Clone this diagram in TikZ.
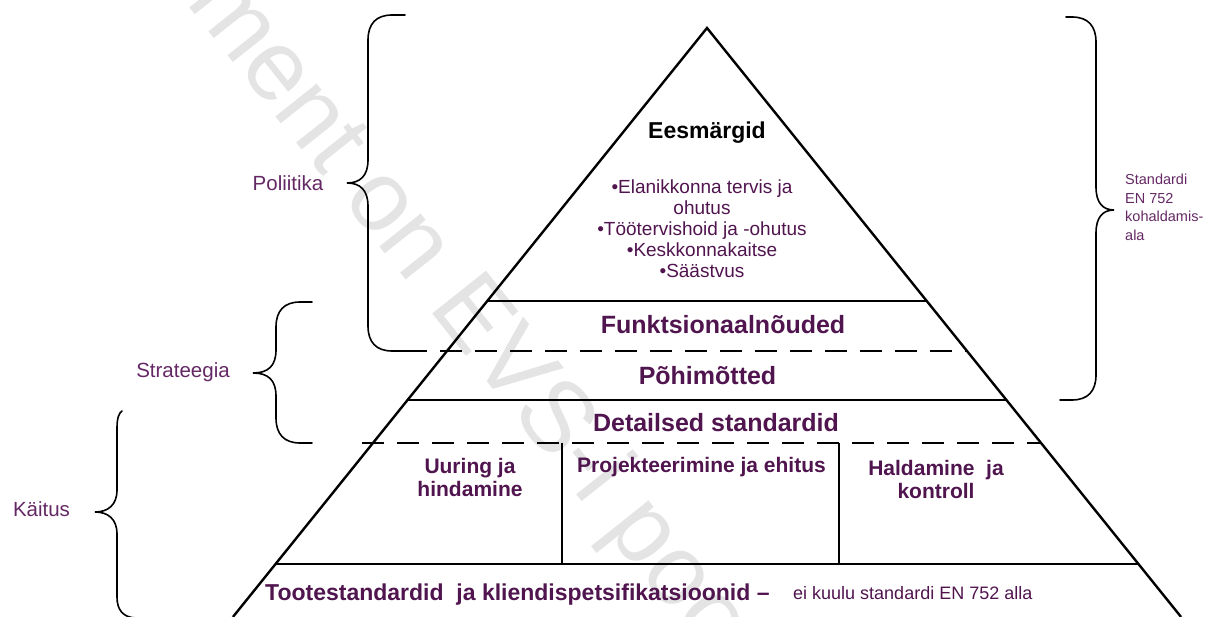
\documentclass[tikz,border=0pt]{standalone}
\usepackage{fontspec}
\setmainfont{Liberation Sans}
\definecolor{pyr}{RGB}{80,20,78}
\definecolor{lab}{RGB}{100,40,100}
\definecolor{wmgray}{RGB}{228,228,228}
\begin{document}
\begin{tikzpicture}[x=1pt,y=-1pt,
  edge/.style={line width=2.4pt, black},
  dashln/.style={line width=2.4pt, black, dash pattern=on 22pt off 13pt},
  divider/.style={line width=1.6pt, black},
  brace/.style={line width=1.6pt, black, line cap=round},
  title/.style={font=\fontsize{25}{30}\selectfont\bfseries, text=pyr, inner sep=0pt},
  sub/.style={font=\fontsize{21}{23}\selectfont\bfseries, text=pyr, align=center, inner sep=0pt},
  lbl/.style={font=\fontsize{20.5}{24}\selectfont, text=lab, inner sep=0pt},
  wmark/.style={font=\fontsize{100}{110}\selectfont, text=wmgray, inner sep=0pt}]
\useasboundingbox (0,0) rectangle (1216,617);
\clip (0,0) rectangle (1216,617);
% watermark
\node[wmark, rotate=-51.5, anchor=base west] (wm) at (40,-180) {Dokument on EVS-i poolt loodud eelvaade};
% pyramid
\coordinate (apex) at (707,28);
\coordinate (bl) at (232.9,617);
\coordinate (br) at (1181.1,617);
\coordinate (l1) at (487.2,301); \coordinate (r1) at (926.8,301);
\coordinate (l2) at (405,351);   \coordinate (r2) at (967.0,351);
\coordinate (l3) at (407.5,400); \coordinate (r3) at (1006.5,400);
\coordinate (l4) at (362,443);   \coordinate (r4) at (1041.1,443);
\coordinate (l5) at (275.5,564); \coordinate (r5) at (1138.5,564);
\coordinate (d1t) at (562,443); \coordinate (d1b) at (562,564);
\coordinate (d2t) at (839,443); \coordinate (d2b) at (839,564);
\draw[edge, line join=miter] (bl) -- (apex) -- (br);
\draw[edge] (l1) -- (r1);
\draw[dashln] (l2) -- (r2);
\draw[edge] (l3) -- (r3);
\draw[dashln] (l4) -- (r4);
\draw[edge] (l5) -- (r5);
\draw[divider] (d1t) -- (d1b);
\draw[divider] (d2t) -- (d2b);
% braces
\draw[brace] (405,15) -- (392,15) .. controls (376,15) and (368,24) .. (368,40) -- (368,160) .. controls (368,176) and (360,183) .. (347,183) .. controls (360,183) and (368,190) .. (368,206) -- (368,326) .. controls (368,342) and (376,351) .. (392,351) -- (405,351);
\draw[brace] (1066,17) -- (1072,17) .. controls (1088,17) and (1096,26) .. (1096,42) -- (1096,187) .. controls (1096,203) and (1103,210) .. (1114,210) .. controls (1103,210) and (1096,217) .. (1096,233) -- (1096,375) .. controls (1096,391) and (1088,400) .. (1072,400) -- (1060,400);
\draw[brace] (312,302) -- (300,302) .. controls (284,302) and (276,311) .. (276,327) -- (276,350) .. controls (276,366) and (268,373) .. (253,373) .. controls (268,373) and (276,380) .. (276,396) -- (276,418) .. controls (276,434) and (284,443) .. (300,443) -- (312,443);
\draw[brace] (122,411) .. controls (119,413) and (117,418) .. (117,428) -- (117,490) .. controls (117,505) and (108,512) .. (95,512) .. controls (108,512) and (117,519) .. (117,534) -- (117,597) .. controls (117,610) and (123,617) .. (135,618);
% texts
\node[font=\fontsize{23}{28}\selectfont\bfseries, inner sep=0pt] (goal) at (707,133) {Eesmärgid};
\node[font=\fontsize{19}{21}\selectfont, text=pyr, align=center, inner sep=0pt] (goals) at (702,229) {•Elanikkonna tervis ja\\ohutus\\•Töötervishoid ja -ohutus\\•Keskkonnakaitse\\•Säästvus};
\node[title] (func) at (723,325) {Funktsionaalnõuded};
\node[title] (poh) at (707.5,376) {Põhimõtted};
\node[title] (det) at (716,423) {Detailsed standardid};
\node[sub] (uur) at (470,477) {Uuring ja\\hindamine};
\node[sub] (proj) at (701.5,467) {Projekteerimine ja ehitus};
\node[sub] (hald) at (936,479) {Haldamine\ \ ja\\kontroll};
\node[font=\fontsize{23}{28}\selectfont\bfseries, text=pyr, inner sep=0pt, anchor=west] (toote) at (265,595) {Tootestandardid\ \ ja kliendispetsifikatsioonid –};
\node[font=\fontsize{18}{22}\selectfont, text=pyr, inner sep=0pt, anchor=west] (eik) at (793,593) {ei kuulu standardi EN 752 alla};
\node[lbl] (pol) at (288,183) {Poliitika};
\node[lbl] (str) at (183,372) {Strateegia};
\node[lbl] (kai) at (41.5,509) {Käitus};
\node[font=\fontsize{14.5}{18.5}\selectfont, text=lab, align=left, inner sep=0pt, anchor=north west] (std) at (1125,174) {Standardi\\EN 752\\kohaldamis-\\ala};
\end{tikzpicture}
\end{document}
